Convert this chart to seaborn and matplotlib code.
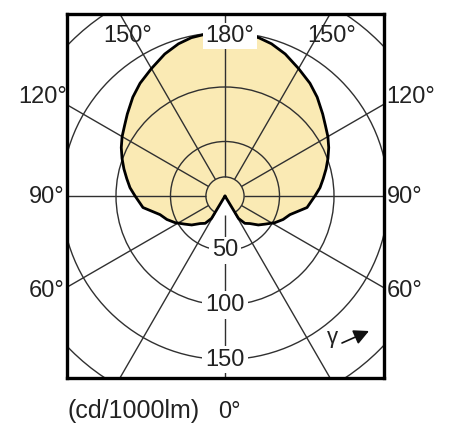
import numpy as np
import matplotlib
matplotlib.use("Agg")
import matplotlib.pyplot as plt
from matplotlib.patches import Circle
import seaborn as sns

# ---- data (cd/1000lm vs gamma angle, symmetric curve) ----
gamma_deg = [0, 31, 36, 42, 49, 55, 62, 68, 74, 82, 90, 95, 100, 105, 110,
             115, 120, 125, 130, 137, 143, 150, 157, 163, 168, 173, 180]
intensity = [0, 24, 31, 34, 40.5, 45, 52, 57.5, 62, 76, 82.5, 87.5, 91.5, 96,
             100.5, 105, 109, 112.5, 117, 124, 129.5, 135, 141.5, 146, 148.5,
             149.5, 150]
ring_values = [17.5, 50, 100, 150, 200]
ring_label_values = [50, 100, 150]
ring_labels = ["50", "100", "150"]
spoke_angles = [0, 30, 60, 90, 120, 150, 180, 210, 240, 270, 300, 330]
angle_labels_left = ["150°", "120°", "90°", "60°"]
angle_labels_right = ["150°", "120°", "90°", "60°"]
top_label = "180°"
bottom_label = "0°"
unit_label = "(cd/1000lm)"

# ---- style ----
sns.set_theme(style="white")
plt.rcParams["font.family"] = ["Liberation Sans", "DejaVu Sans"]
TXT = "#222222"
GRID = "#303030"
FILL = "#FAEAB4"

W, H = 450, 433
fig = plt.figure(figsize=(W / 100, H / 100), dpi=100)
fig.patch.set_facecolor("white")
L, R, T, B = 67, 384, 14, 378
ax = fig.add_axes([L / W, 1 - B / H, (R - L) / W, (B - T) / H])
ax.set_facecolor("white")

cx, cy, sc = 225.0, 196.0, 1.09  # pixel centre and px per unit


def px(x, y):
    return (x - cx) / sc, (cy - y) / sc


ax.set_xlim(px(L, 0)[0], px(R, 0)[0])
ax.set_ylim(px(0, B)[1], px(0, T)[1])
ax.set_xticks([])
ax.set_yticks([])
for s in ax.spines.values():
    s.set_linewidth(2.4)
    s.set_color("black")
    s.set_zorder(10)

# ---- curve (polar -> cartesian, gamma measured from downward) ----
g = np.radians(np.array(gamma_deg, dtype=float))
I = np.array(intensity, dtype=float)
xr = I * np.sin(g)
yr = -I * np.cos(g)
xs = np.concatenate([xr, -xr[::-1]])
ys = np.concatenate([yr, yr[::-1]])

fill_patch = ax.fill(xs, ys, color=FILL, lw=0, zorder=1)[0]

# ---- grid ----
for r in ring_values:
    c = Circle((0, 0), r, fill=False, ec=GRID, lw=1.0, zorder=2)
    ax.add_patch(c)
    if r == ring_values[0]:
        c.set_clip_path(fill_patch)
for a in spoke_angles:
    ar = np.radians(a)
    ax.plot([ring_values[0] * np.sin(ar), 400 * np.sin(ar)],
            [-ring_values[0] * np.cos(ar), -400 * np.cos(ar)],
            color=GRID, lw=1.0, zorder=2, solid_capstyle="butt")

sns.lineplot(x=xs, y=ys, sort=False, estimator=None, color="black",
             lw=2.0, ax=ax, zorder=5)

# ---- labels ----
fs = 17
for v, t in zip(ring_label_values, ring_labels):
    ax.text(0, -v, t, ha="center", va="center", fontsize=fs, color=TXT,
            zorder=8, bbox=dict(boxstyle="square,pad=0.12", fc="white",
                                ec="none"))

x, y = px(230, 42)
ax.text(x, y, top_label, ha="center", va="baseline", fontsize=fs, color=TXT,
        zorder=8, bbox=dict(boxstyle="square,pad=0.1", fc="white", ec="none"))
x, y = px(128, 42)
ax.text(x, y, angle_labels_left[0], ha="center", va="baseline", fontsize=fs,
        color=TXT, zorder=8)
x, y = px(332, 42)
ax.text(x, y, angle_labels_right[0], ha="center", va="baseline", fontsize=fs,
        color=TXT, zorder=8)

left_pos = [(67, 103), (65, 203), (65, 297)]
right_pos = [(386, 103), (387, 203), (387, 297)]
for t, (px_, py_) in zip(angle_labels_left[1:], left_pos):
    x, y = px(px_, py_)
    ax.text(x, y, t, ha="right", va="baseline", fontsize=fs, color=TXT,
            clip_on=False)
for t, (px_, py_) in zip(angle_labels_right[1:], right_pos):
    x, y = px(px_, py_)
    ax.text(x, y, t, ha="left", va="baseline", fontsize=fs, color=TXT,
            clip_on=False)

x, y = px(68, 418)
ax.text(x, y, unit_label, ha="left", va="baseline", fontsize=18, color=TXT,
        clip_on=False)
x, y = px(218, 418)
ax.text(x, y, bottom_label, ha="left", va="baseline", fontsize=fs, color=TXT,
        clip_on=False)

# gamma arrow
x, y = px(332, 337)
ax.text(x, y, "γ", ha="center", va="center", fontsize=16, color=TXT, zorder=8)
ax.annotate("", xy=px(369, 331), xytext=px(342, 343),
            arrowprops=dict(arrowstyle="-|>,head_length=0.7,head_width=0.35",
                            mutation_scale=13, color="#111111", lw=1.2,
                            shrinkA=0, shrinkB=0), zorder=8)

fig.savefig("out.png", dpi=100, facecolor="white")
